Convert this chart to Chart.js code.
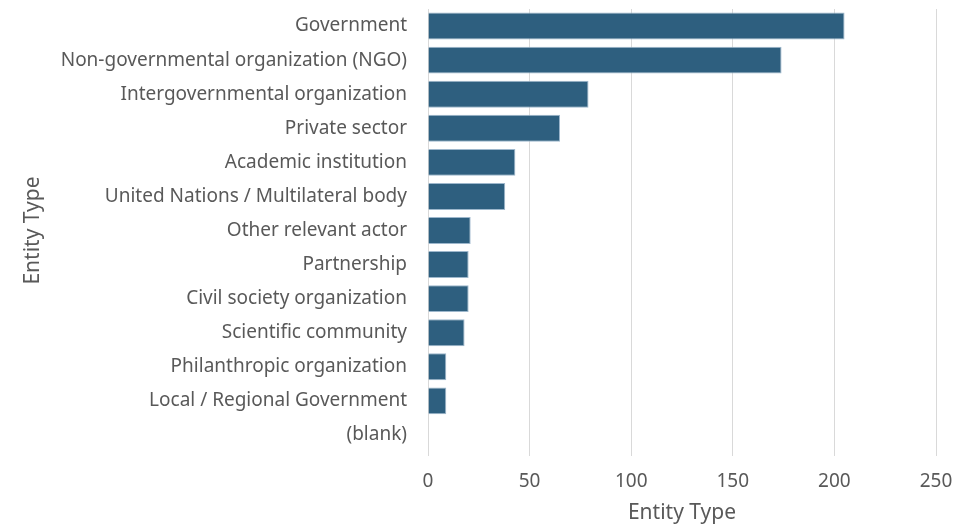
<!DOCTYPE html>
<html>
<head>
<meta charset="utf-8">
<script src="https://cdn.jsdelivr.net/npm/chart.js@4/dist/chart.umd.min.js"></script>
<style>
  html, body { margin: 0; padding: 0; background: #fff; }
  #wrap { width: 976px; height: 526px; }
</style>
</head>
<body>
<div id="wrap"><canvas id="chart" width="976" height="526"></canvas></div>
<script>
// Entity types, top to bottom
const categories = [
  'Government',
  'Non-governmental organization (NGO)',
  'Intergovernmental organization',
  'Private sector',
  'Academic institution',
  'United Nations / Multilateral body',
  'Other relevant actor',
  'Partnership',
  'Civil society organization',
  'Scientific community',
  'Philanthropic organization',
  'Local / Regional Government',
  '(blank)'
];
const counts = [205, 174, 79, 65, 43, 38, 21, 20, 20, 18, 9, 9, 0];
const xTicks = [0, 50, 100, 150, 200, 250];

const FONT = "'Noto Sans', sans-serif";
const TEXT = '#595959';

new Chart(document.getElementById('chart'), {
  type: 'bar',
  data: {
    labels: categories,
    datasets: [{
      data: counts,
      backgroundColor: '#2e5f7f',
      borderColor: '#9db7cc',
      borderWidth: 1,
      categoryPercentage: 1,
      barPercentage: 0.79
    }]
  },
  options: {
    indexAxis: 'y',
    responsive: false,
    animation: false,
    layout: { padding: { top: 9, right: 40, bottom: 0, left: 0 } },
    plugins: { legend: { display: false }, tooltip: { enabled: false } },
    scales: {
      x: {
        min: xTicks[0],
        max: xTicks[xTicks.length - 1],
        afterBuildTicks: (s) => { s.ticks = xTicks.map((v) => ({ value: v })); },
        afterFit: (s) => { s.height = 74; },
        grid: { color: '#d9d9d9', lineWidth: 1, tickLength: 4 },
        border: { display: false },
        ticks: { color: TEXT, font: { family: FONT, size: 19 }, padding: 14 },
        title: {
          display: true,
          text: 'Entity Type',
          color: TEXT,
          font: { family: FONT, size: 21 },
          padding: 0
        }
      },
      y: {
        afterFit: (s) => {
          // fixed axis width, no extra top/bottom padding from labels
          s.width = 428;
          s.paddingTop = 0;
          s.paddingBottom = 0;
        },
        grid: { display: false, drawTicks: false },
        border: { display: false },
        ticks: { color: TEXT, font: { family: FONT, size: 19 }, padding: 21, autoSkip: false },
        title: {
          display: true,
          text: 'Entity Type',
          color: TEXT,
          font: { family: FONT, size: 21 },
          padding: { top: 20, bottom: 0 }
        }
      }
    }
  }
});
</script>
</body>
</html>
